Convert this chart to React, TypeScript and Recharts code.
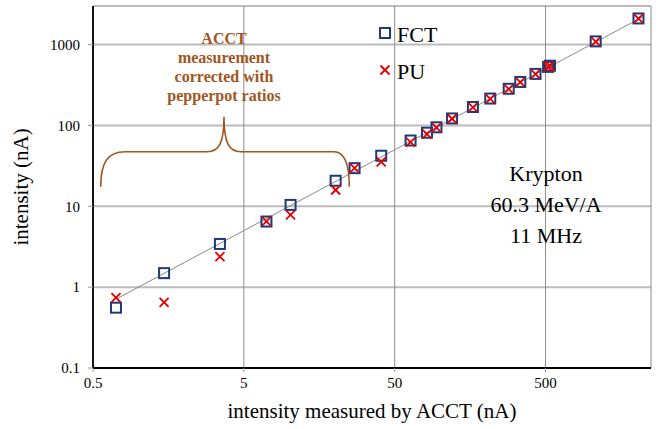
import {
  CartesianGrid,
  ReferenceLine,
  Scatter,
  ScatterChart,
  XAxis,
  YAxis,
} from 'recharts';

// Beam intensity: ACCT reading vs FCT and pickup (PU) readings, nA
const acct = [
  0.71, 1.48, 3.47, 7.06, 10.2, 20.3, 27.1, 40.7, 63.7, 81.8, 94.6, 120, 165,
  215, 285, 340, 429, 520, 535, 1075, 2065,
];
const fct = [
  0.557, 1.49, 3.42, 6.48, 10.4, 20.7, 29.6, 42.2, 65.1, 81.3, 94.8, 122, 169,
  215, 284, 345, 434, 530, 548, 1095, 2104,
];
const pu = [
  0.74, 0.65, 2.38, 6.5, 7.83, 15.9, 29.6, 35.4, 62, 78, 94, 121, 167, 213, 282,
  343, 432, 528, 546, 1090, 2100,
];

const xTicks = [0.5, 5, 50, 500];
const yTicks = [0.1, 1, 10, 100, 1000];

// y = x reference
const unityLine = [
  { x: 0.72, y: 0.72 },
  { x: 2200, y: 2200 },
];

const noteLines = ['ACCT', 'measurement', 'corrected with', 'pepperpot ratios'];
const beamLines = ['Krypton', '60.3 MeV/A', '11 MHz'];

const fctPoints = acct.map((x, i) => ({ x, y: fct[i] }));
const puPoints = acct.map((x, i) => ({ x, y: pu[i] }));

const NAVY = '#1c3b7c';
const RED = '#e00000';
const BROWN = '#a0561e';
const FONT = "'Liberation Serif', 'Times New Roman', serif";

const W = 658;
const H = 429;

function SquareMark({ cx, cy }: { cx?: number; cy?: number }) {
  if (cx == null || cy == null) return null;
  return (
    <rect
      x={cx - 5}
      y={cy - 5}
      width={10}
      height={10}
      fill='none'
      stroke={NAVY}
      strokeWidth={2}
    />
  );
}

function CrossMark({ cx, cy }: { cx?: number; cy?: number }) {
  if (cx == null || cy == null) return null;
  const r = 4.5;
  return (
    <g stroke={RED} strokeWidth={1.8}>
      <line x1={cx - r} y1={cy - r} x2={cx + r} y2={cy + r} />
      <line x1={cx - r} y1={cy + r} x2={cx + r} y2={cy - r} />
    </g>
  );
}

function Overlay() {
  return (
    <svg
      width={W}
      height={H}
      style={{ position: 'absolute', left: 0, top: 0, pointerEvents: 'none' }}
      fontFamily={FONT}
    >
      {/* legend */}
      <SquareMark cx={385} cy={33} />
      <text x={397} y={42} fontSize={22} fill='#000'>
        FCT
      </text>
      <CrossMark cx={385} cy={70} />
      <text x={397} y={79} fontSize={22} fill='#000'>
        PU
      </text>

      {/* brace over the corrected low-intensity points */}
      <path
        d='M100.7,186.7 C100.7,162 108,151.7 125,151.7 L207,151.7 C219,151.7 224,143 224,116.7 C224,143 229,151.7 241,151.7 L334,151.7 C344,151.7 349.3,162 349.3,186.7'
        fill='none'
        stroke={BROWN}
        strokeWidth={1.6}
      />
      {noteLines.map((t, i) => (
        <text
          key={t}
          x={224}
          y={44 + i * 19}
          fontSize={16}
          fontWeight='bold'
          fill={BROWN}
          textAnchor='middle'
        >
          {t}
        </text>
      ))}

      {beamLines.map((t, i) => (
        <text
          key={t}
          x={546}
          y={181 + i * 31}
          fontSize={22}
          fill='#000'
          textAnchor='middle'
        >
          {t}
        </text>
      ))}

      {/* axis titles */}
      <text x={372} y={418} fontSize={21} fill='#000' textAnchor='middle'>
        intensity measured by ACCT (nA)
      </text>
      <text
        x={28}
        y={187}
        fontSize={21}
        fill='#000'
        textAnchor='middle'
        transform='rotate(-90 28 187)'
      >
        intensity (nA)
      </text>
    </svg>
  );
}

export default function App() {
  return (
    <div
      style={{
        position: 'absolute',
        left: 0,
        top: 0,
        width: W,
        height: H,
        background: '#fff',
      }}
    >
      <ScatterChart
        width={W}
        height={H}
        margin={{ top: 6, right: 7, bottom: 31, left: 33 }}
      >
        <CartesianGrid
          vertical={false}
          stroke='#bcbcbc'
          strokeWidth={2}
        />
        <CartesianGrid horizontal={false} stroke='#8c8c8c' strokeWidth={1} />
        <XAxis
          type='number'
          dataKey='x'
          scale='log'
          domain={[0.5, 2500]}
          ticks={xTicks}
          allowDataOverflow
          height={30}
          axisLine={{ stroke: '#000', strokeWidth: 1.8 }}
          tickLine={{ stroke: '#999' }}
          tickSize={4}
          tickMargin={5}
          tick={{ fill: '#000', fontSize: 15, fontFamily: FONT }}
        />
        <YAxis
          type='number'
          dataKey='y'
          scale='log'
          domain={[0.1, 3000]}
          ticks={yTicks}
          allowDataOverflow
          width={60}
          axisLine={{ stroke: '#000', strokeWidth: 1.8 }}
          tickLine={{ stroke: '#999' }}
          tickSize={5}
          tickMargin={8}
          tick={{ fill: '#000', fontSize: 15, fontFamily: FONT }}
        />
        <ReferenceLine
          segment={unityLine}
          stroke='#8a8a8a'
          strokeWidth={1}
          ifOverflow='visible'
        />
        <Scatter
          name='FCT'
          data={fctPoints}
          shape={SquareMark}
          isAnimationActive={false}
        />
        <Scatter
          name='PU'
          data={puPoints}
          shape={CrossMark}
          isAnimationActive={false}
        />
      </ScatterChart>
      <Overlay />
    </div>
  );
}
